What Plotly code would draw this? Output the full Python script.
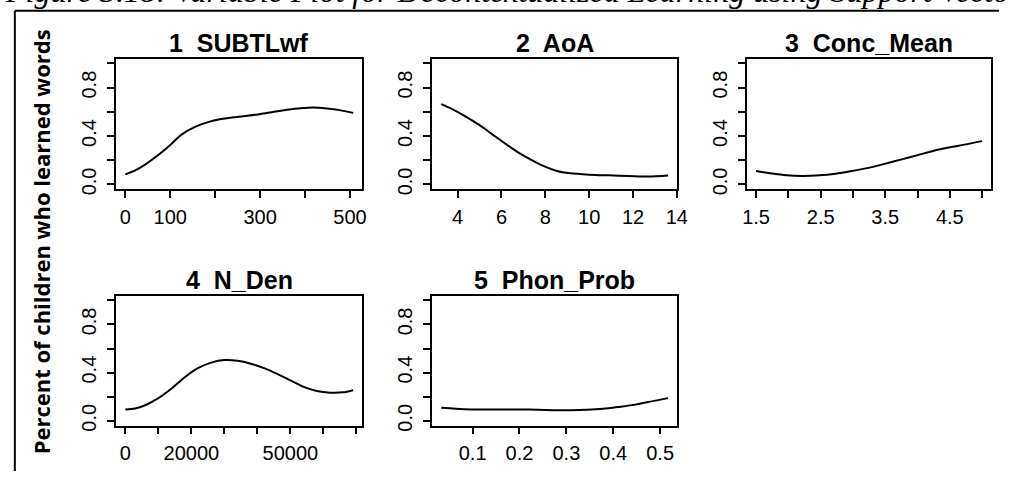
import plotly.graph_objects as go

W, H = 1010, 477

# ---------------- data ----------------
titles = ["1\u00a0 SUBTLwf", "2\u00a0 AoA", "3\u00a0 Conc_Mean", "4\u00a0 N_Den", "5\u00a0 Phon_Prob"]

subtl_x = [0, 22, 44, 74, 100, 125, 154, 184, 213, 242, 272, 301, 331, 360, 389, 419, 448, 477, 507]
subtl_y = [0.083, 0.116, 0.164, 0.245, 0.326, 0.412, 0.474, 0.515, 0.540, 0.555, 0.568, 0.582, 0.601,
           0.617, 0.630, 0.636, 0.628, 0.614, 0.590]

aoa_x = [3.25, 3.75, 4.35, 4.95, 5.55, 6.15, 6.74, 7.34, 7.93, 8.53, 9.13, 10.0, 10.9, 11.8, 12.7, 13.6]
aoa_y = [0.663, 0.622, 0.563, 0.496, 0.418, 0.340, 0.267, 0.205, 0.151, 0.111, 0.092, 0.081, 0.075,
         0.070, 0.065, 0.073]

conc_x = [1.5, 1.72, 1.97, 2.22, 2.48, 2.73, 2.98, 3.24, 3.49, 3.74, 3.99, 4.24, 4.5, 4.75, 5.0]
conc_y = [0.111, 0.092, 0.075, 0.070, 0.075, 0.089, 0.111, 0.137, 0.170, 0.205, 0.240, 0.277, 0.307,
          0.331, 0.358]

nden_x = [0, 3000, 6000, 10000, 14000, 18000, 22000, 26000, 30000, 34000, 38000, 42000, 46000, 50000,
          54000, 58000, 62000, 66000, 69000]
nden_y = [0.094, 0.102, 0.129, 0.188, 0.268, 0.362, 0.437, 0.483, 0.504, 0.498, 0.474, 0.437, 0.389,
          0.335, 0.281, 0.247, 0.233, 0.236, 0.254]

phon_x = [0.033, 0.063, 0.098, 0.133, 0.168, 0.203, 0.238, 0.273, 0.308, 0.343, 0.378, 0.412, 0.447,
          0.482, 0.517]
phon_y = [0.108, 0.100, 0.094, 0.094, 0.094, 0.094, 0.091, 0.088, 0.088, 0.091, 0.099, 0.115, 0.134,
          0.161, 0.188]

x_tickvals = [
    [0, 100, 200, 300, 400, 500],
    [4, 6, 8, 10, 12, 14],
    [1.5, 2.0, 2.5, 3.0, 3.5, 4.0, 4.5, 5.0],
    [0, 10000, 20000, 30000, 40000, 50000, 60000, 70000],
    [0.1, 0.2, 0.3, 0.4, 0.5],
]
x_ticktext = [
    ["0", "100", "", "300", "", "500"],
    ["4", "6", "8", "10", "12", "14"],
    ["1.5", "", "2.5", "", "3.5", "", "4.5", ""],
    ["0", "", "20000", "", "", "50000", "", ""],
    ["0.1", "0.2", "0.3", "0.4", "0.5"],
]
y_tickvals = [0, 0.2, 0.4, 0.6, 0.8, 1.0]
y_ticktext = ["0.0", "", "0.4", "", "0.8", ""]

ylabel = "Percent of children who learned words"
caption = "Figure 3.18: Variable Plot for Decontextualized Learning using Support Vector Machines"

series = [(subtl_x, subtl_y), (aoa_x, aoa_y), (conc_x, conc_y), (nden_x, nden_y), (phon_x, phon_y)]

# ---------------- layout (pixel boxes) ----------------
boxes = [  # left, right, top, bottom in px
    (113, 363, 59.3, 191.7),
    (434, 683, 59.3, 191.7),
    (754, 1002, 59.3, 191.7),
    (113, 363, 299.3, 431),
    (434, 683, 299.3, 431),
]

fig = go.Figure()
layout = dict(
    width=W, height=H, margin=dict(l=0, r=0, t=0, b=0),
    paper_bgcolor="white", plot_bgcolor="white", showlegend=False,
    font=dict(family="Liberation Sans, Arial", color="black", size=20),
)

annotations = []
for i, ((xs, ys), (l, r, t, b)) in enumerate(zip(series, boxes)):
    n = "" if i == 0 else str(i + 1)
    fig.add_trace(go.Scatter(x=xs, y=ys, mode="lines", xaxis="x" + n, yaxis="y" + n,
                             line=dict(color="black", width=2, shape="spline", smoothing=0.8),
                             hoverinfo="skip"))
    xmin, xmax = min(xs), max(xs)
    pad = (xmax - xmin) * 0.04
    common = dict(showline=True, mirror=True, linecolor="black", linewidth=1.6,
                  ticks="outside", ticklen=7, tickwidth=1.5, tickcolor="black",
                  showgrid=False, zeroline=False, tickfont=dict(size=20))
    layout["xaxis" + n] = dict(domain=[l / W, r / W], range=[xmin - pad, xmax + pad],
                               anchor="y" + n, tickmode="array", tickvals=x_tickvals[i],
                               ticktext=x_ticktext[i], ticklabelstandoff=2, **common)
    layout["yaxis" + n] = dict(domain=[1 - b / H, 1 - t / H], range=[-0.04, 1.04],
                               anchor="x" + n, tickmode="array", tickvals=y_tickvals,
                               ticktext=y_ticktext, tickangle=-90, ticklabelstandoff=3, **common)
    title_y = t - 16
    annotations.append(dict(text="<b>" + titles[i] + "</b>", xref="paper", yref="paper",
                            x=(l + r) / 2 / W, y=1 - title_y / H, xanchor="center", yanchor="middle",
                            showarrow=False, font=dict(size=25, family="Liberation Sans, Arial")))

annotations.append(dict(text="<b>" + ylabel + "</b>", xref="paper", yref="paper",
                        x=36 / W, y=1 - 245 / H, xanchor="center", yanchor="middle", textangle=-90,
                        showarrow=False, font=dict(size=22, family="Open Sans")))
annotations.append(dict(text="<i>" + caption + "</i>", xref="paper", yref="paper",
                        x=-2 / W, y=1 + 9.5 / H, xanchor="left", yanchor="middle",
                        showarrow=False, font=dict(size=32, family="Liberation Serif")))
layout["annotations"] = annotations
layout["shapes"] = [
    dict(type="line", xref="paper", yref="paper", x0=10 / W, x1=1.0, y0=1 - 11 / H, y1=1 - 11 / H,
         line=dict(color="black", width=2)),
    dict(type="line", xref="paper", yref="paper", x0=10 / W, x1=10 / W, y0=0, y1=1 - 11 / H,
         line=dict(color="black", width=2)),
]
fig.update_layout(**layout)
fig.write_html("out.html")
